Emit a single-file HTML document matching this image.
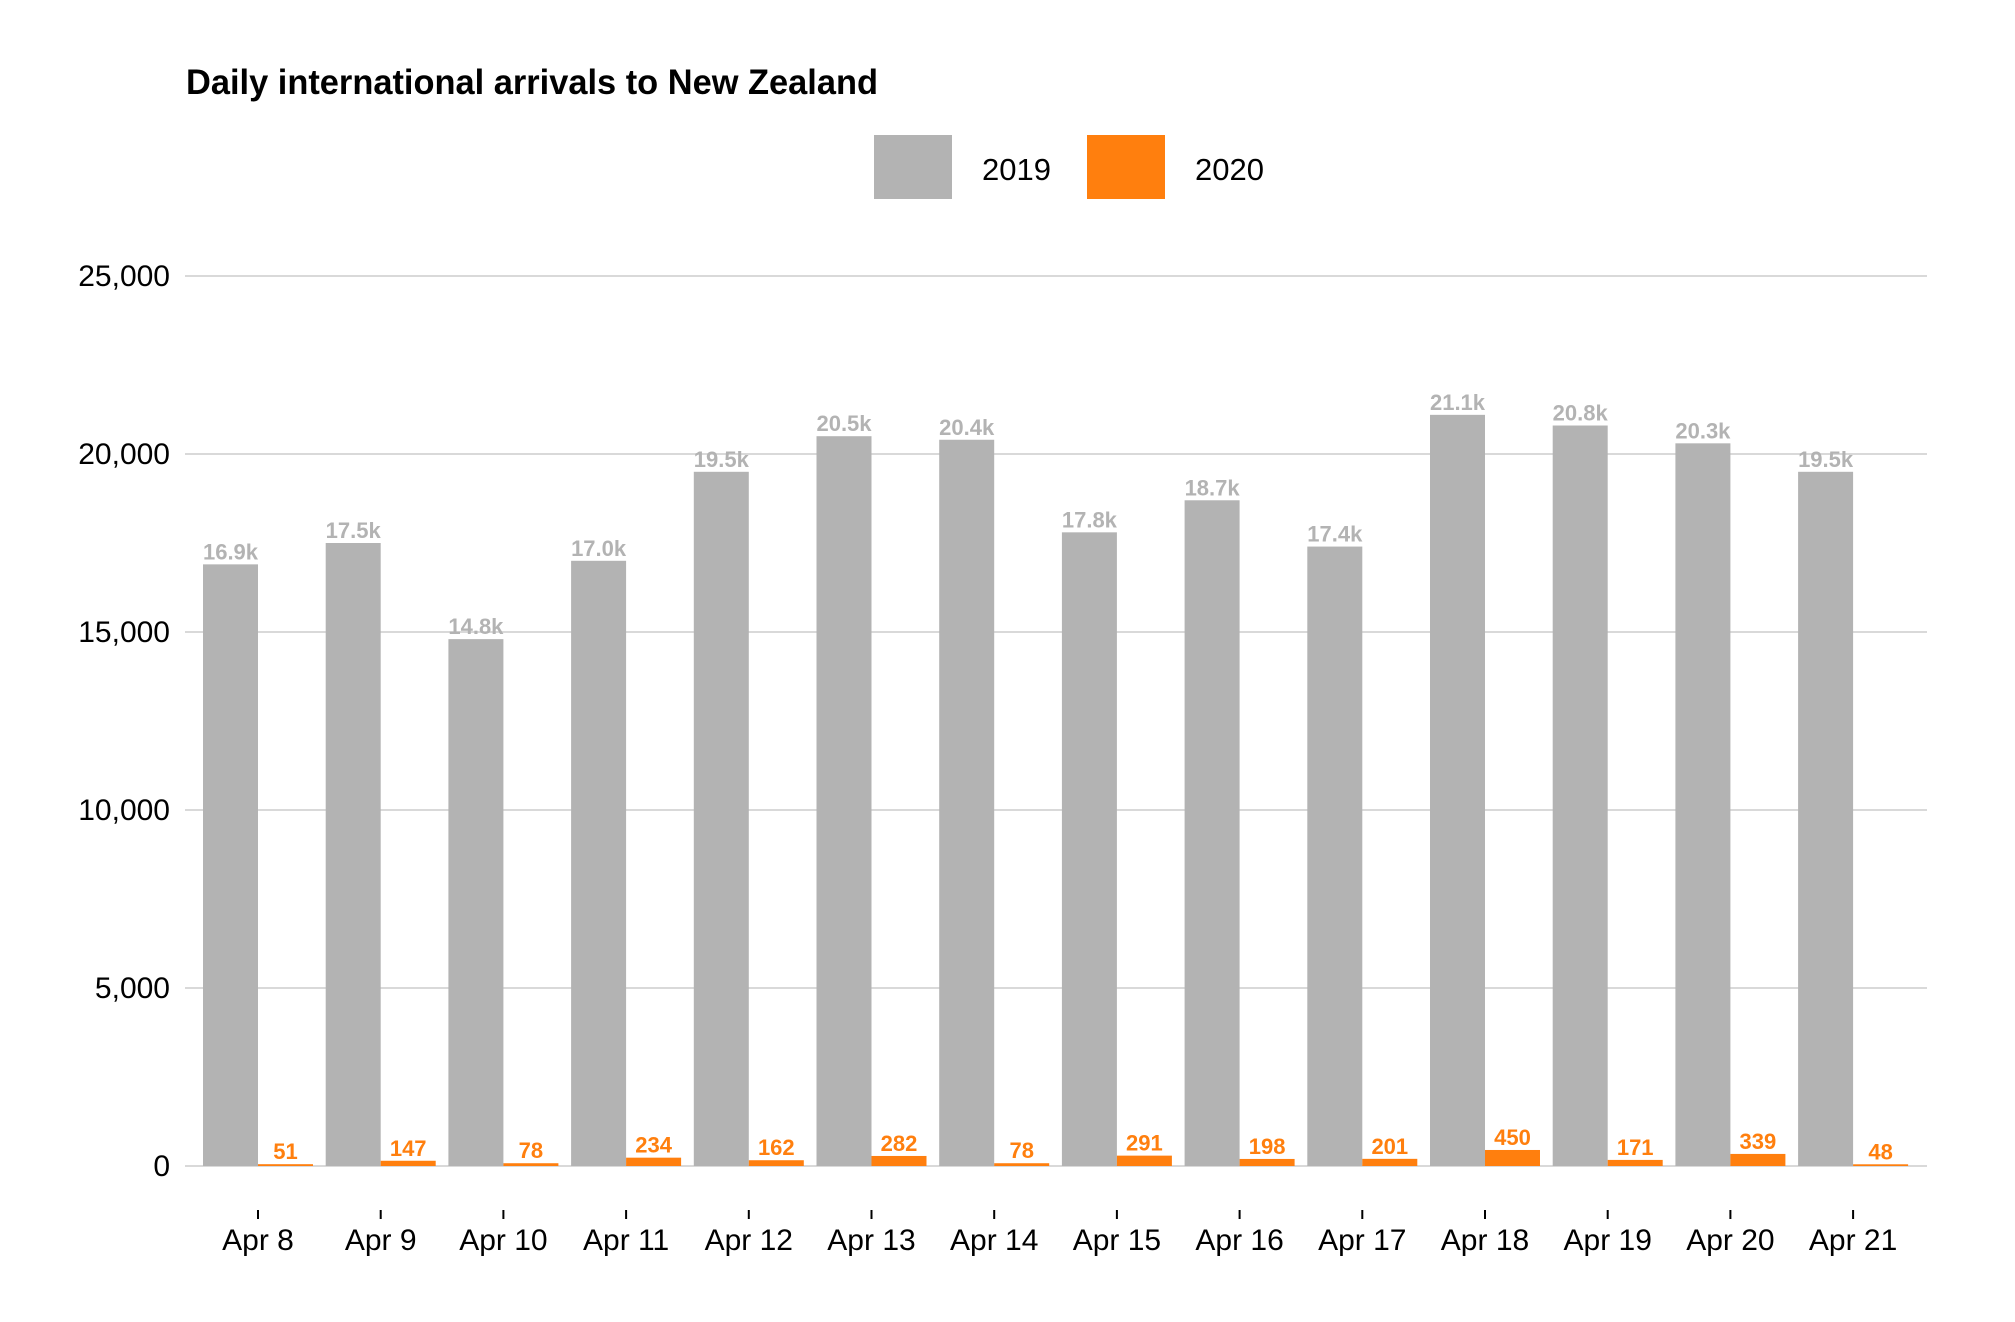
<!DOCTYPE html>
<html><head><meta charset="utf-8"><style>
html,body{margin:0;padding:0;background:#fff;}
svg{display:block;font-family:"Liberation Sans",sans-serif;}
</style></head><body>
<svg id="chart" width="2015" height="1322" viewBox="0 0 2015 1322">
<text x="186" y="94" font-size="35" font-weight="bold" fill="#000" textLength="692" lengthAdjust="spacingAndGlyphs">Daily international arrivals to New Zealand</text>
<g>
<rect x="874" y="135" width="78" height="64" fill="#b3b3b3"/>
<text x="982" y="180" font-size="31" fill="#000">2019</text>
<rect x="1087" y="135" width="78" height="64" fill="#ff7f0e"/>
<text x="1195" y="180" font-size="31" fill="#000">2020</text>
</g>
<g id="grid"></g><g id="bars"></g><g id="xaxis"></g>
</svg>
<script>
const categories = ["Apr 8","Apr 9","Apr 10","Apr 11","Apr 12","Apr 13","Apr 14","Apr 15","Apr 16","Apr 17","Apr 18","Apr 19","Apr 20","Apr 21"];
const values2019 = [16900,17500,14800,17000,19500,20500,20400,17800,18700,17400,21100,20800,20300,19500];
const values2020 = [51,147,78,234,162,282,78,291,198,201,450,171,339,48];
const yTicks = [0,5000,10000,15000,20000,25000];
const yTickLabels = ["0","5,000","10,000","15,000","20,000","25,000"];

const NS = "http://www.w3.org/2000/svg";
const y0 = 1166, yTop = 276, yMax = 25000;
function yScale(v){ return y0 - (v / yMax) * (y0 - yTop); }
function xScale(i){ return 258 + i * 122.7; }
const barW = 55;
function mk(tag, attrs, parent, text){
  const el = document.createElementNS(NS, tag);
  for (const k in attrs) el.setAttribute(k, attrs[k]);
  if (text !== undefined) el.textContent = text;
  parent.appendChild(el);
  return el;
}
const grid = document.getElementById('grid');
const bars = document.getElementById('bars');
const xaxis = document.getElementById('xaxis');

yTicks.forEach((t, i) => {
  const y = yScale(t);
  const line = mk('line', {x1:185, x2:1927, y1:y, y2:y, stroke:'#d9d9d9', 'stroke-width':2}, grid);
  
  
  const lab = mk('text', {x:170, y:y+10, 'font-size':30, 'text-anchor':'end', fill:'#000'}, grid, yTickLabels[i]);
  
  
});

categories.forEach((c, i) => {
  const cx = xScale(i);
  const yA = yScale(values2019[i]);
  const r1 = mk('rect', {x:cx-barW, y:yA, width:barW, height:y0-yA, fill:'#b3b3b3'}, bars);
  
  
  const l1 = mk('text', {x:cx-barW/2, y:yA-5, 'font-size':22, 'font-weight':'bold', 'text-anchor':'middle', fill:'#b3b3b3'}, bars, (values2019[i]/1000).toFixed(1)+'k');
  
  
  const yB = yScale(values2020[i]);
  const r2 = mk('rect', {x:cx, y:yB, width:barW, height:y0-yB, fill:'#ff7f0e'}, bars);
  
  
  const l2 = mk('text', {x:cx+barW/2, y:yB-5, 'font-size':22, 'font-weight':'bold', 'text-anchor':'middle', fill:'#ff7f0e'}, bars, String(values2020[i]));
  
  
  const tk = mk('line', {x1:cx, x2:cx, y1:1210, y2:1219, stroke:'#000', 'stroke-width':2}, xaxis);
  
  
  const xl = mk('text', {x:cx, y:1250, 'font-size':30, 'text-anchor':'middle', fill:'#000'}, xaxis, c);
  
  
});
</script>
</body></html>
